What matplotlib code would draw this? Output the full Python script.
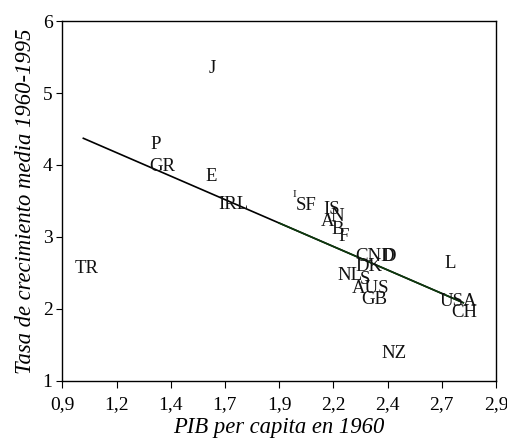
import matplotlib
matplotlib.use("Agg")
import matplotlib.pyplot as plt
import numpy as np

plt.rcParams['font.family'] = ['Liberation Serif', 'DejaVu Serif']

# country labels and positions (PIB per capita 1960, growth 1960-1995)
labels = ["J", "P", "GR", "E", "IRL", "I", "SF", "IS", "N", "A", "B", "F",
          "CND", "D", "DK", "NL", "S", "AUS", "GB", "L", "USA", "CH", "NZ", "TR"]
pib_1960 = [1.590, 1.332, 1.360, 1.586, 1.690, 1.968, 2.026, 2.141, 2.169, 2.121, 2.171, 2.197,
            2.344, 2.408, 2.314, 2.225, 2.296, 2.321, 2.340, 2.688, 2.727, 2.755, 2.430, 1.012]
growth = [5.347, 4.278, 3.986, 3.847, 3.458, 3.597, 3.431, 3.382, 3.285, 3.222, 3.111, 3.007,
          2.736, 2.736, 2.590, 2.472, 2.410, 2.285, 2.132, 2.625, 2.104, 1.951, 1.382, 2.569]

# fitted regression line endpoints
fit_x = [0.997, 2.749]
fit_y = [4.371, 2.087]

x_ticks = [0.9, 1.15, 1.4, 1.65, 1.9, 2.15, 2.4, 2.65, 2.9]
x_ticklabels = ["0,9", "1,2", "1,4", "1,7", "1,9", "2,2", "2,4", "2,7", "2,9"]
y_ticks = [1, 2, 3, 4, 5, 6]

fig = plt.figure(figsize=(5.07, 4.44), dpi=100)
ax = fig.add_axes([0.1229, 0.1419, 0.9783 - 0.1229, 0.9527 - 0.1419])

ax.plot(fit_x, fit_y, color="black", linewidth=1.2)
# right part of the line looks dark green in the original
gx = [1.9, fit_x[1]]
gy = list(np.interp(gx, fit_x, fit_y))
ax.plot(gx, gy, color="#0d3a0d", linewidth=1.2)

for lab, x, y in zip(labels, pib_1960, growth):
    size = 8 if lab == "I" else 13.5
    ax.text(x, y, lab, ha="center", va="center", fontsize=size, color="#111111")

ax.set_xlim(0.9, 2.9)
ax.set_ylim(1, 6)
ax.set_xticks(x_ticks)
ax.set_xticklabels(x_ticklabels)
ax.set_yticks(y_ticks)
ax.tick_params(axis="x", labelsize=14, length=5, width=0.8, direction="out", pad=6)
ax.tick_params(axis="y", labelsize=14, length=4, width=0.8, direction="out", pad=3)

ax.set_xlabel("PIB per capita en 1960", fontsize=16.3, style="italic", labelpad=3)
ax.set_ylabel("Tasa de crecimiento media 1960-1995", fontsize=16.3, style="italic", labelpad=5)

for sp in ax.spines.values():
    sp.set_linewidth(1.0)

fig.savefig("out.png", dpi=100)
